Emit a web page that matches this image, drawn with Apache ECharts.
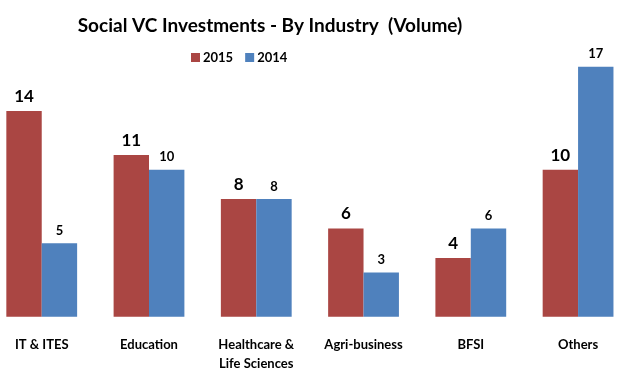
<!DOCTYPE html>
<html><head><meta charset="utf-8">
<script src="https://cdn.jsdelivr.net/npm/echarts@6/dist/echarts.min.js"></script>
<style>html,body{margin:0;padding:0;background:#fff}#c{width:618px;height:372px}</style>
</head><body><div id="c"></div>
<script>
const categories = ['IT & ITES', 'Education', 'Healthcare &\nLife Sciences', 'Agri-business', 'BFSI', 'Others'];
const values2015 = [14, 11, 8, 6, 4, 10];
const values2014 = [5, 10, 8, 3, 6, 17];
const FONT = 'Lato, "Open Sans", sans-serif';
const chart = echarts.init(document.getElementById('c'), null, {renderer: 'canvas'});
chart.setOption({
  animation: false,
  backgroundColor: '#fff',
  title: {
    text: 'Social VC Investments - By Industry  (Volume)',
    left: 265, top: 11, textAlign: 'center',
    textStyle: {fontFamily: FONT, fontSize: 19, fontWeight: 'bold', color: '#000'}
  },
  legend: {
    data: ['2015', '2014'],
    left: 186, top: 46,
    itemWidth: 9, itemHeight: 9, itemGap: 12,
    icon: 'rect',
    textStyle: {fontFamily: FONT, fontSize: 13, fontWeight: 'bold', color: '#000', padding: [0,0,0,-2]}
  },
  grid: {left: -11.9, width: 643.6, top: 52.1, bottom: 55.3, containLabel: false, outerBoundsMode: 'none'},
  xAxis: {
    type: 'category', data: categories,
    axisLine: {show: false}, axisTick: {show: false},
    axisLabel: {fontFamily: FONT, fontSize: 13, fontWeight: 'bold', color: '#000', margin: 19, lineHeight: 19, interval: 0}
  },
  yAxis: {type: 'value', min: 0, max: 18, show: false, splitLine: {show: false}},
  series: [
    {name: '2015', type: 'bar', data: values2015, barGap: '0%', barCategoryGap: '34%',
     itemStyle: {color: '#AA4643'},
     label: {show: true, position: 'top', distance: 6, fontFamily: FONT, fontSize: 17, fontWeight: 'bold', color: '#000'}},
    {name: '2014', type: 'bar', data: values2014,
     itemStyle: {color: '#4F81BD'},
     label: {show: true, position: 'top', distance: 6, fontFamily: FONT, fontSize: 13, fontWeight: 'bold', color: '#000'}}
  ]
});
</script></body></html>
